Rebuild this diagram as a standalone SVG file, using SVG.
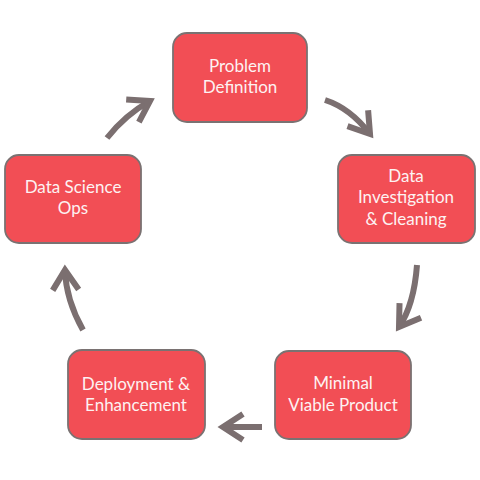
<svg xmlns="http://www.w3.org/2000/svg" width="480" height="480" viewBox="0 0 480 480">
<style>
.node rect{fill:#f24e55;stroke:#7a7272;stroke-width:1.8}
.node text{fill:#fdf2f2;font-family:Lato,"Open Sans",sans-serif;font-size:17px;text-anchor:middle}
.conn path{fill:none;stroke:#7b6f70;stroke-width:6;stroke-linecap:butt}
</style>
<defs>
<marker id="ah" markerUnits="userSpaceOnUse" markerWidth="40" markerHeight="40" refX="0" refY="0" orient="auto" overflow="visible" viewBox="-30 -20 40 40">
<path d="M-20,-13 L0,0 L-20,13" fill="none" stroke="#7b6f70" stroke-width="6" stroke-linejoin="miter"/>
</marker>
</defs>
<rect width="480" height="480" fill="#ffffff"/>
<g class="conn">
<path d="M325,100 Q350,108 370,134" marker-end="url(#ah)"/>
<path d="M417,265 Q414,305 399,327" marker-end="url(#ah)"/>
<path d="M262,427 L223,427" marker-end="url(#ah)"/>
<path d="M83,330 Q66,300 65,270" marker-end="url(#ah)"/>
<path d="M107,138 Q125,115 150,101" marker-end="url(#ah)"/>
</g>
<g id="n1" class="node"><rect x="173" y="33" width="134" height="89" rx="14"/><text x="240" y="72">Problem</text><text x="240" y="93">Definition</text></g>
<g id="n2" class="node"><rect x="338" y="155" width="137" height="88" rx="14"/><text x="406" y="182">Data</text><text x="406" y="203">Investigation</text><text x="406" y="225">&amp; Cleaning</text></g>
<g id="n3" class="node"><rect x="275" y="351" width="136" height="88" rx="14"/><text x="343" y="389">Minimal</text><text x="343" y="411">Viable Product</text></g>
<g id="n4" class="node"><rect x="68" y="350" width="137" height="89" rx="14"/><text x="136" y="390">Deployment &amp;</text><text x="136" y="411">Enhancement</text></g>
<g id="n5" class="node"><rect x="5" y="155" width="136" height="88" rx="14"/><text x="73" y="193">Data Science</text><text x="73" y="214">Ops</text></g>
</svg>
